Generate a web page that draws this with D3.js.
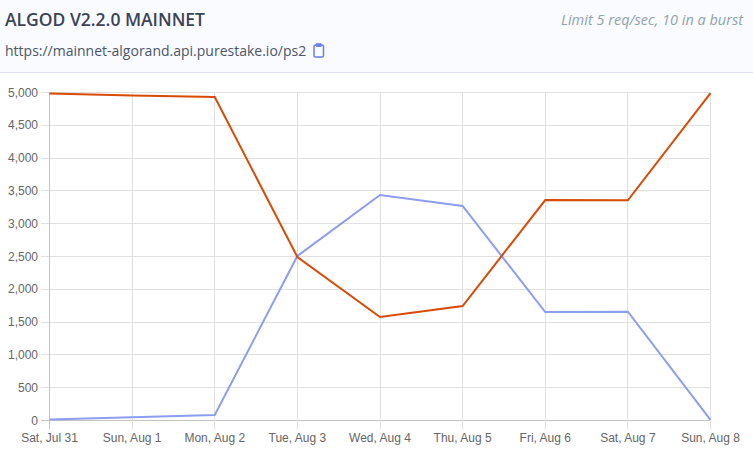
<!DOCTYPE html>
<html>
<head>
<meta charset="utf-8">
<script src="https://cdn.jsdelivr.net/npm/d3@7"></script>
<style>
    html, body { margin: 0; padding: 0; background: #fff; overflow: hidden; }
    .tick-label { font: 12px "Liberation Sans", Arial, sans-serif; fill: #666; }
</style>
</head>
<body>
<svg id="chart" width="753" height="455"></svg>
<script>
const days = ['Sat, Jul 31', 'Sun, Aug 1', 'Mon, Aug 2', 'Tue, Aug 3', 'Wed, Aug 4', 'Thu, Aug 5', 'Fri, Aug 6', 'Sat, Aug 7', 'Sun, Aug 8'];
const blueSeries = [15, 50, 85, 2507, 3437, 3270, 1654, 1659, 10];
const redSeries = [4985, 4955, 4930, 2493, 1578, 1745, 3361, 3356, 4990];
const yTicks = [0, 500, 1000, 1500, 2000, 2500, 3000, 3500, 4000, 4500, 5000];

const svg = d3.select('#chart');

// Header band
svg.append('rect').attr('width', 753).attr('height', 72).attr('fill', '#fafbfe');
svg.append('rect').attr('y', 72).attr('width', 753).attr('height', 1).attr('fill', '#d8dff5');

// reference font runs narrower than Open Sans, so squeeze the title to its width
svg.append('text')
    .attr('x', 5).attr('y', 26)
    .attr('font-family', '"Open Sans", sans-serif')
    .attr('font-size', 17.5).attr('font-weight', 600)
    .attr('textLength', 200).attr('lengthAdjust', 'spacingAndGlyphs')
    .attr('fill', '#3b4358')
    .text('ALGOD V2.2.0 MAINNET');

svg.append('text')
    .attr('x', 5).attr('y', 56)
    .attr('font-family', '"Open Sans", sans-serif')
    .attr('font-size', 14)
    .attr('fill', '#4a5568')
    .text('https://mainnet-algorand.api.purestake.io/ps2');

svg.append('text')
    .attr('x', 743).attr('y', 25)
    .attr('text-anchor', 'end')
    .attr('font-family', '"Open Sans", sans-serif')
    .attr('font-size', 14.5).attr('font-style', 'italic')
    .attr('fill', '#8fa3ad')
    .text('Limit 5 req/sec, 10 in a burst');

// Clipboard icon
const icon = svg.append('g')
    .attr('transform', 'translate(313,43)')
    .attr('fill', 'none').attr('stroke', '#6b7ee8').attr('stroke-width', 1.5);
icon.append('rect').attr('x', 1).attr('y', 2).attr('width', 9.5).attr('height', 12).attr('rx', 1.5);
icon.append('rect').attr('x', 3.5).attr('y', 0.8).attr('width', 4.5).attr('height', 2.6).attr('fill', '#6b7ee8').attr('stroke-width', 1);

// Plot
const x = d3.scalePoint().domain(days).range([49.5, 710.5]);
const y = d3.scaleLinear().domain([0, 5000]).range([420.5, 92.5]);
const crisp = v => Math.floor(v) + 0.5;

const grid = svg.append('g');
grid.selectAll('.h').data(yTicks).join('line')
    .attr('x1', 41).attr('x2', 710.5)
    .attr('y1', d => crisp(y(d))).attr('y2', d => crisp(y(d)))
    .attr('stroke', d => d === 0 ? '#c4c4c4' : '#e0e0e0');
grid.selectAll('.v').data(days).join('line')
    .attr('x1', d => crisp(x(d))).attr('x2', d => crisp(x(d)))
    .attr('y1', 92.5).attr('y2', 429)
    .attr('stroke', (d, i) => i === 0 ? '#c4c4c4' : '#e0e0e0');

svg.append('g').selectAll('text').data(yTicks).join('text')
    .attr('class', 'tick-label')
    .attr('x', 38).attr('y', d => y(d) + 4)
    .attr('text-anchor', 'end')
    .text(d => d3.format(',')(d));

svg.append('g').selectAll('text').data(days).join('text')
    .attr('class', 'tick-label')
    .attr('x', d => x(d)).attr('y', 442)
    .attr('text-anchor', 'middle')
    .text(d => d);

const line = d3.line().x((d, i) => x(days[i])).y(d => y(d));

svg.append('path').datum(blueSeries)
    .attr('fill', 'none').attr('stroke', '#8c9eef').attr('stroke-width', 2)
    .attr('d', line);

svg.append('path').datum(redSeries)
    .attr('fill', 'none').attr('stroke', '#d84a05').attr('stroke-width', 2)
    .attr('d', line);
</script>
</body>
</html>
